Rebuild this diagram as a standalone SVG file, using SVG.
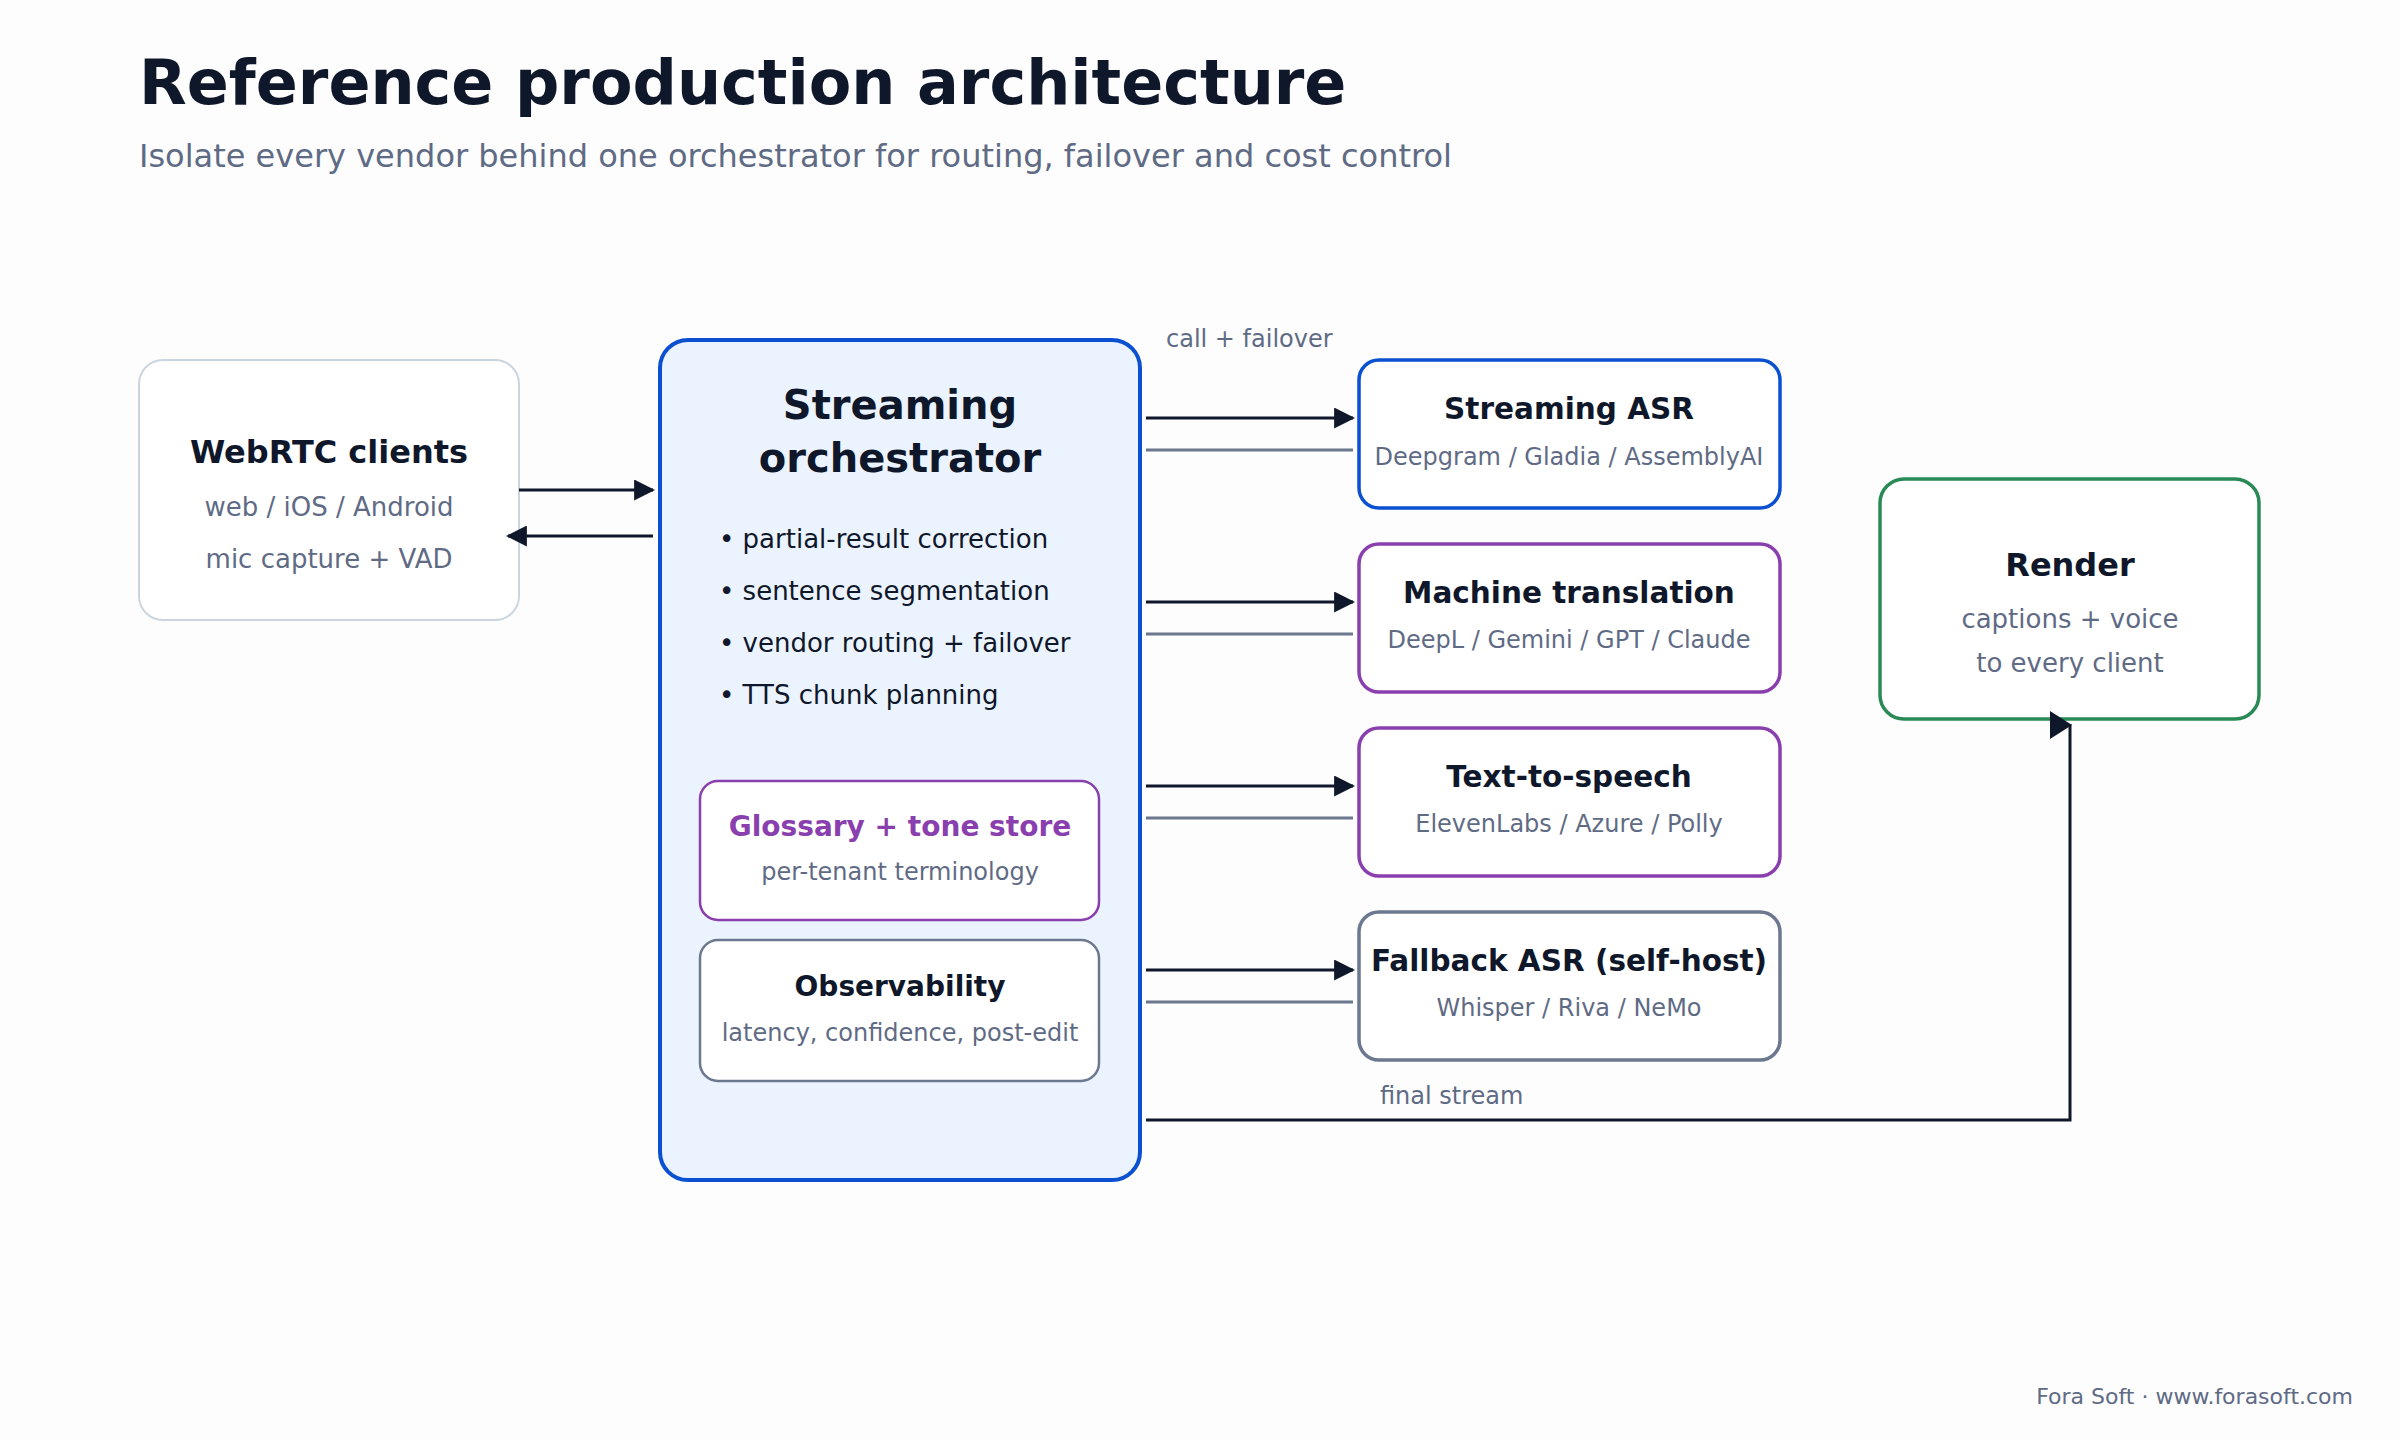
<svg xmlns="http://www.w3.org/2000/svg" width="2400" height="1440" viewBox="0 0 2400 1440">
<style>
text{font-family:"DejaVu Sans",sans-serif}
.h{font-weight:bold;fill:#0f172a}
.s{fill:#5f6b85}
.c{text-anchor:middle}
.ln{stroke:#0f172a;stroke-width:3;fill:none}
.gl{stroke:#6b7890;stroke-width:3;fill:none}
</style>
<defs>
<marker id="a" viewBox="0 0 10 10" refX="9" refY="5" markerWidth="7" markerHeight="7" orient="auto-start-reverse" markerUnits="strokeWidth"><path d="M0,0L10,5L0,10z" fill="#0f172a"/></marker>
</defs>
<rect width="2400" height="1440" fill="#fdfdfd"/>
<text x="139" y="104" font-size="62" class="h">Reference production architecture</text>
<text x="139" y="167" font-size="32" class="s">Isolate every vendor behind one orchestrator for routing, failover and cost control</text>
<g id="webrtc"><rect x="139" y="360" width="380" height="260" rx="24" fill="#fff" stroke="#cbd5df" stroke-width="2"/>
<text x="329" y="463" font-size="32" class="h c">WebRTC clients</text>
<text x="329" y="516" font-size="26" class="s c">web / iOS / Android</text>
<text x="329" y="568" font-size="26" class="s c">mic capture + VAD</text></g>
<g id="orchestrator"><rect x="660" y="340" width="480" height="840" rx="28" fill="#ebf3fe" stroke="#0b50d0" stroke-width="4"/>
<text x="900" y="419" font-size="40" class="h c">Streaming</text>
<text x="900" y="472" font-size="40" class="h c">orchestrator</text>
<g font-size="26" fill="#0f172a"><text x="719" y="548">• partial-result correction</text><text x="719" y="600">• sentence segmentation</text><text x="719" y="652">• vendor routing + failover</text><text x="719" y="704">• TTS chunk planning</text></g></g>
<g id="glossary"><rect x="700" y="781" width="399" height="139" rx="18" fill="#fff" stroke="#8a3fae" stroke-width="2.5"/>
<text x="900" y="836" font-size="28" font-weight="bold" fill="#8a3fae" class="c">Glossary + tone store</text>
<text x="900" y="880" font-size="24" class="s c">per-tenant terminology</text></g>
<g id="observability"><rect x="700" y="940" width="399" height="141" rx="18" fill="#fff" stroke="#6b7890" stroke-width="2.5"/>
<text x="900" y="996" font-size="28" class="h c">Observability</text>
<text x="900" y="1041" font-size="24" class="s c">latency, confidence, post-edit</text></g>
<g id="asr"><rect x="1359" y="360" width="421" height="148" rx="20" fill="#fff" stroke="#0b50d0" stroke-width="3.5"/>
<text x="1569" y="419" font-size="29.5" class="h c">Streaming ASR</text><text x="1569" y="465" font-size="24" class="s c">Deepgram / Gladia / AssemblyAI</text></g>
<g id="mt"><rect x="1359" y="544" width="421" height="148" rx="20" fill="#fff" stroke="#8a3fae" stroke-width="3.5"/>
<text x="1569" y="603" font-size="29.5" class="h c">Machine translation</text><text x="1569" y="648" font-size="24" class="s c">DeepL / Gemini / GPT / Claude</text></g>
<g id="tts"><rect x="1359" y="728" width="421" height="148" rx="20" fill="#fff" stroke="#8a3fae" stroke-width="3.5"/>
<text x="1569" y="787" font-size="29.5" class="h c">Text-to-speech</text><text x="1569" y="832" font-size="24" class="s c">ElevenLabs / Azure / Polly</text></g>
<g id="fallback"><rect x="1359" y="912" width="421" height="148" rx="20" fill="#fff" stroke="#6b7890" stroke-width="3.5"/>
<text x="1569" y="971" font-size="29.5" class="h c">Fallback ASR (self-host)</text><text x="1569" y="1016" font-size="24" class="s c">Whisper / Riva / NeMo</text></g>
<g id="render"><rect x="1880" y="479" width="379" height="240" rx="24" fill="#fff" stroke="#2a8a55" stroke-width="3.5"/>
<text x="2070" y="576" font-size="32" class="h c">Render</text>
<text x="2070" y="628" font-size="26" class="s c">captions + voice</text>
<text x="2070" y="672" font-size="26" class="s c">to every client</text></g>
<g id="connectors">
<line x1="519" y1="490" x2="653" y2="490" class="ln" marker-end="url(#a)"/>
<line x1="653" y1="536" x2="508" y2="536" class="ln" marker-end="url(#a)"/>
<line x1="1146" y1="418" x2="1353" y2="418" class="ln" marker-end="url(#a)"/>
<line x1="1146" y1="450" x2="1353" y2="450" class="gl"/>
<line x1="1146" y1="602" x2="1353" y2="602" class="ln" marker-end="url(#a)"/>
<line x1="1146" y1="634" x2="1353" y2="634" class="gl"/>
<line x1="1146" y1="786" x2="1353" y2="786" class="ln" marker-end="url(#a)"/>
<line x1="1146" y1="818" x2="1353" y2="818" class="gl"/>
<line x1="1146" y1="970" x2="1353" y2="970" class="ln" marker-end="url(#a)"/>
<line x1="1146" y1="1002" x2="1353" y2="1002" class="gl"/>
<polyline points="1146,1120 2070,1120 2070,724" class="ln"/>
<path d="M2050,711L2072,725L2050,739z" fill="#0f172a"/>
<text x="1166" y="347" font-size="24" class="s">call + failover</text>
<text x="1380" y="1104" font-size="24" class="s">final stream</text>
</g>
<text x="2353" y="1404" font-size="22" class="s" text-anchor="end">Fora Soft · www.forasoft.com</text>
</svg>
